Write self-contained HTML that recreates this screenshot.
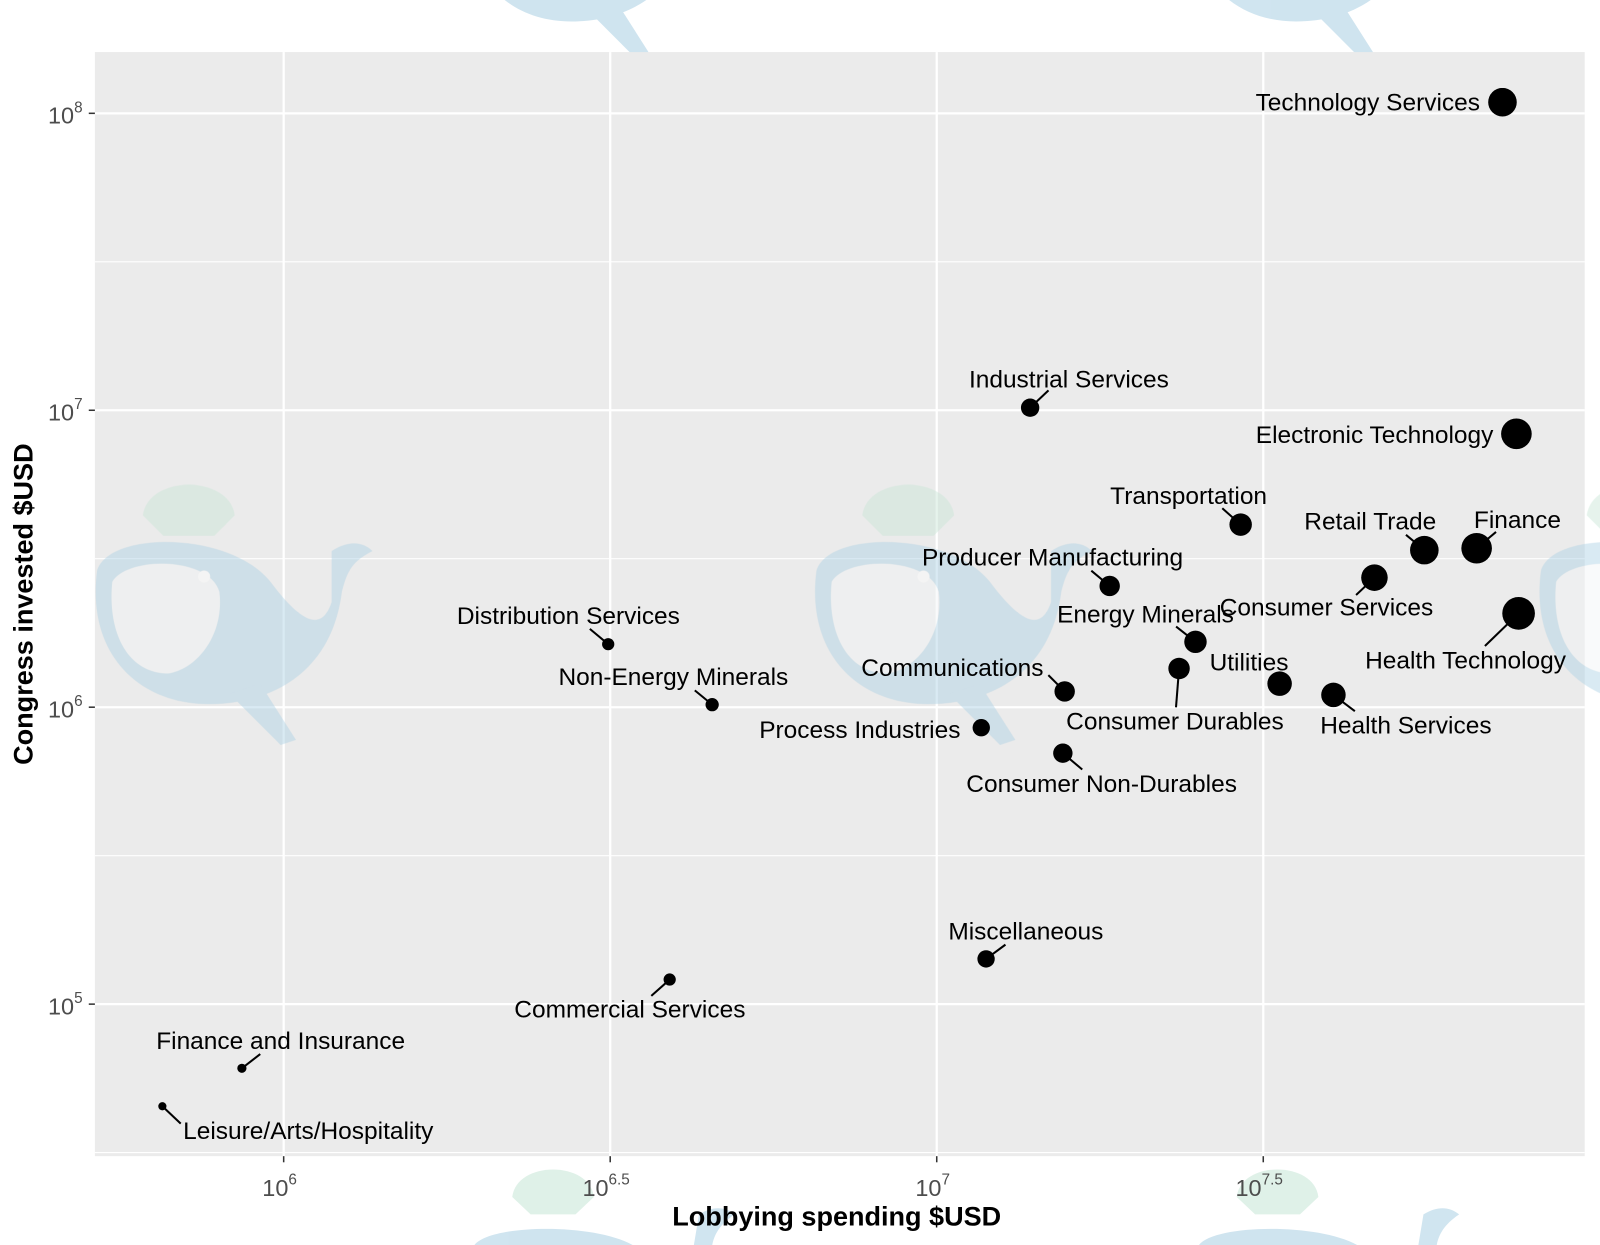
<!DOCTYPE html>
<html><head><meta charset="utf-8">
<style>
html,body{margin:0;padding:0;background:#fff;width:1600px;height:1245px;overflow:hidden;}
svg{display:block;font-family:"Liberation Sans",Arial,sans-serif;}
</style></head>
<body>
<svg id="chart" width="1600" height="1245" viewBox="0 0 1568 1220" xmlns="http://www.w3.org/2000/svg" overflow="hidden">
<defs><clipPath id="frame"><rect x="0" y="0" width="1568" height="1220"/></clipPath></defs>
<g clip-path="url(#frame)">
<g id="wm"></g>
<rect x="93" y="51" width="1460" height="1082" fill="#ebebeb"/>
<g id="grid"></g>
<g id="wm2" opacity="0.8"></g>
</g>
<g id="marks"></g>
<g id="axes"></g>
<text x="820" y="1201" text-anchor="middle" font-size="26.5" font-weight="bold" fill="#000">Lobbying spending $USD</text>
<text transform="translate(32,592) rotate(-90)" text-anchor="middle" font-size="26.5" font-weight="bold" fill="#000">Congress invested $USD</text>
</svg>
<script>
const categories = ["Technology Services","Electronic Technology","Industrial Services","Transportation","Retail Trade","Finance","Consumer Services","Health Technology","Producer Manufacturing","Energy Minerals","Consumer Durables","Utilities","Health Services","Communications","Consumer Non-Durables","Process Industries","Distribution Services","Non-Energy Minerals","Miscellaneous","Commercial Services","Finance and Insurance","Leisure/Arts/Hospitality"];
const lobbying = [73.5e6,77.2e6,13.9e6,29.2e6,55.8e6,67.1e6,46.8e6,77.8e6,18.4e6,24.9e6,23.5e6,33.5e6,40.5e6,15.7e6,15.6e6,11.7e6,3.14e6,4.53e6,11.9e6,3.90e6,0.863e6,0.652e6];
const invested = [109e6,8.33e6,10.2e6,4.12e6,3.38e6,3.43e6,2.73e6,2.07e6,2.56e6,1.66e6,1.35e6,1.20e6,1.10e6,1.13e6,0.70e6,0.853e6,1.63e6,1.02e6,0.142e6,0.121e6,60.8e3,45.3e3];
const pointSize = [14,15,9,11,14,15,13,16,10,11,10.5,12,12,10,9.5,8.5,6,6.5,8.5,6,4.5,4];
const xTickExp = ["6","6.5","7","7.5"];
const yTickExp = ["8","7","6","5"];
// label placement (offset from point): [dx, dy, segment-end dx, segment-end dy or null]
const labelLayout = [[-132,0,null,null],[-139,1,null,null],[38,-28,18,-17],[-51,-28,-18,-16],[-53,-28,-18,-15],[40,-28,19,-16],[-47,29,-18,17],[-52,46,-33,32],[-56,-28,-18,-15],[-49,-27,-19,-15],[-4,52,-3,38],[-30,-21,null,null],[71,30,21,16],[-110,-23,-16,-16],[38,30,19,16],[-119,2,null,null],[-39,-28,-18,-15],[-38,-27,-17,-14],[39,-27,19,-14],[-39,29,-18,16],[38,-27,18,-14],[143,24,18,17]];

const NS="http://www.w3.org/2000/svg";
const X0=93,X1=1553,Y0=51,Y1=1133;
const xs=v=>278+(Math.log10(v)-6)*640;
const ys=v=>111-(Math.log10(v)-8)*291;
function el(tag,attrs,parent){const e=document.createElementNS(NS,tag);for(const k in attrs)e.setAttribute(k,attrs[k]);parent.appendChild(e);return e;}

const grid=document.getElementById('grid');
for(let e=5.5;e<=8;e+=0.5){const px=278+(e-6)*640;if(px<X0||px>X1)continue;
 const l=el('line',{x1:px,x2:px,y1:Y0,y2:Y1,stroke:'#fff','stroke-width':1.1},grid);
 
 }
for(let e=4.5;e<=8.5;e+=0.5){const py=111-(e-8)*291;if(py<Y0||py>Y1)continue;
 const l=el('line',{x1:X0,x2:X1,y1:py,y2:py,stroke:'#fff','stroke-width':1.1},grid);
 
 }
xTickExp.forEach(t=>{const px=xs(Math.pow(10,+t));const l=el('line',{x1:px,x2:px,y1:Y0,y2:Y1,stroke:'#fff','stroke-width':2.2},grid);
 
 });
yTickExp.forEach(t=>{const py=ys(Math.pow(10,+t));const l=el('line',{x1:X0,x2:X1,y1:py,y2:py,stroke:'#fff','stroke-width':2.2},grid);
 
 });

const axes=document.getElementById('axes');
xTickExp.forEach(t=>{const px=xs(Math.pow(10,+t));
 el('line',{x1:px,x2:px,y1:Y1,y2:Y1+6,stroke:'#333','stroke-width':1.5},axes);
 const tx=el('text',{x:px-4,y:1172,'text-anchor':'middle','font-size':23,fill:'#4d4d4d'},axes);
 
 
 tx.appendChild(document.createTextNode('10'));
 const s=el('tspan',{dy:-11,'font-size':15},tx);s.textContent=t;});
yTickExp.forEach(t=>{const py=ys(Math.pow(10,+t));
 el('line',{x1:X0-6,x2:X0,y1:py,y2:py,stroke:'#333','stroke-width':1.5},axes);
 const tx=el('text',{x:64,y:py+10,'text-anchor':'middle','font-size':23,fill:'#4d4d4d'},axes);
 
 
 tx.appendChild(document.createTextNode('10'));
 const s=el('tspan',{dy:-11,'font-size':15},tx);s.textContent=t;});

function whale(g,cx,cy,s){
 const w=el('g',{transform:`translate(${cx},${cy}) scale(${s})`,opacity:0.55},g);
 
 
 el('path',{d:'M-110,-40 C-100,-80 20,-80 60,-30 C90,10 110,20 120,-10 L120,-60 C135,-70 150,-70 160,-60 C140,-50 135,-40 130,-20 C120,60 60,90 0,90 C-70,90 -120,40 -110,-40 Z',fill:'#a9cfe3'},w);
 el('path',{d:'M-95,-30 C-80,-55 0,-55 10,-20 C15,20 -10,55 -40,60 C-80,60 -100,20 -95,-30 Z',fill:'#f2f5f6'},w);
 el('path',{d:'M20,80 L70,130 L85,125 L50,70 Z',fill:'#a9cfe3'},w);
 el('circle',{cx:-5,cy:-35,r:6,fill:'#fff'},w);
 const m=el('g',{transform:'translate(-20,-105)'},w);
 el('path',{d:'M-45,10 C-40,-30 40,-30 45,10 L25,30 L-25,30 Z',fill:'#c6e6d6'},m);
}
// bottom whales: only the visible top part, kept inside the frame
function whaleTop(g,cx){
 const w=el('g',{transform:`translate(${cx},0)`,opacity:0.55},g);
 
 
 el('path',{d:'M-58,1173 C-54,1137 18,1137 22,1173 L4,1190 L-40,1190 Z',fill:'#c6e6d6'},w);
 el('path',{d:'M-95,1220 C-80,1200 20,1198 60,1220 Z',fill:'#a9cfe3'},w);
 el('path',{d:'M120,1220 L125,1190 C138,1182 150,1182 160,1190 C145,1200 140,1210 138,1220 Z',fill:'#a9cfe3'},w);
}
const wm=document.getElementById('wm'),wm2=document.getElementById('wm2');
whale(wm,560,-60,0.9);whale(wm,1270,-60,0.9);
whaleTop(wm,560);whaleTop(wm,1270);
whale(wm2,205,600,1);whale(wm2,910,600,1);whale(wm2,1620,600,1);

const marks=document.getElementById('marks');
categories.forEach((c,i)=>{
 const px=xs(lobbying[i]),py=ys(invested[i]);const L=labelLayout[i];
 if(L[2]!==null){const sg=el('line',{x1:px,y1:py,x2:px+L[2],y2:py+L[3],stroke:'#000','stroke-width':2},marks);
  
  }
 const p=el('circle',{cx:px,cy:py,r:pointSize[i],fill:'#000'},marks);
 
 
 const t=el('text',{x:px+L[0],y:py+L[1]+8,'text-anchor':'middle','font-size':24,fill:'#000'},marks);
 
 
 t.textContent=c;
});
</script>
</body></html>
